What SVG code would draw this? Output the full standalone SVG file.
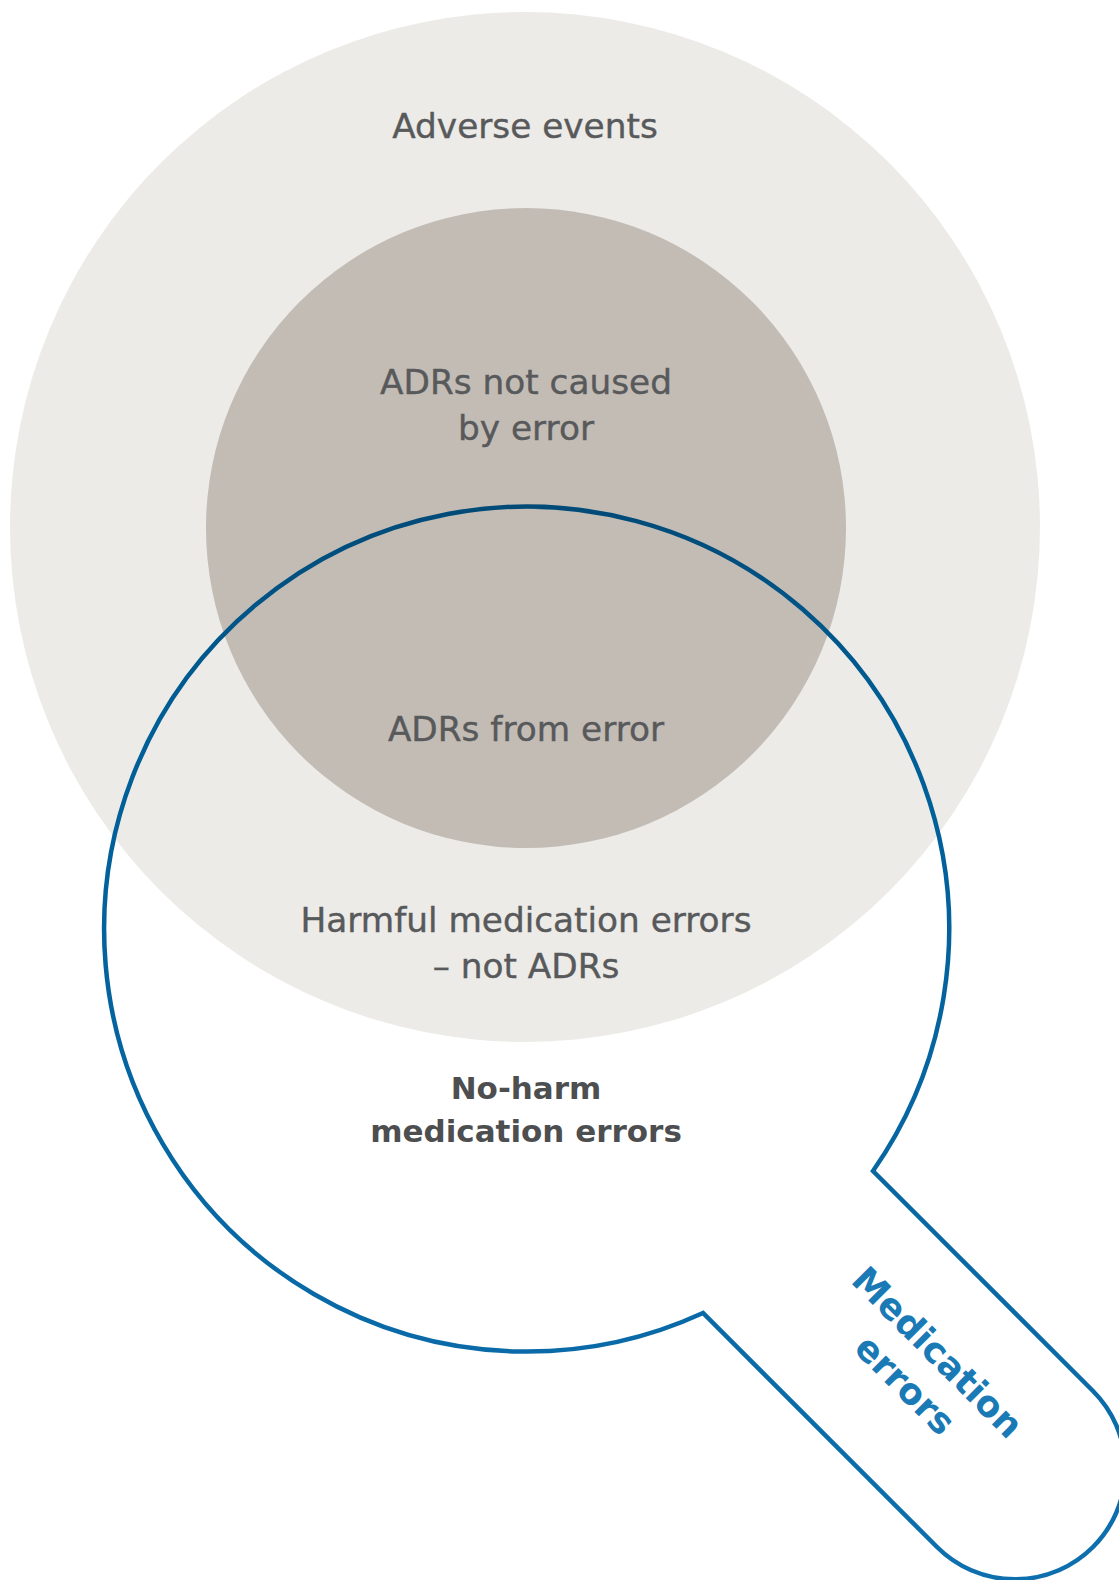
<svg xmlns="http://www.w3.org/2000/svg" width="1119" height="1580" viewBox="0 0 1119 1580">
<defs>
<style>
.lbl{font-family:"DejaVu Sans",sans-serif;font-size:34.3px;fill:#58595b;text-anchor:middle;stroke:#58595b;stroke-width:0.4}
.bld{font-family:"DejaVu Sans",sans-serif;font-size:31px;font-weight:bold;fill:#4d4e50;text-anchor:middle}
.blue{font-family:"DejaVu Sans",sans-serif;font-size:36px;font-weight:bold;fill:#1a7ab5;text-anchor:middle}
</style>
<linearGradient id="g" gradientUnits="userSpaceOnUse" x1="0" y1="505" x2="0" y2="1580">
<stop offset="0" stop-color="#004a77"/>
<stop offset="0.2" stop-color="#005e96"/>
<stop offset="1" stop-color="#0d6fae"/>
</linearGradient>
</defs>
<rect width="1119" height="1580" fill="#ffffff"/>
<g id="adverse-events">
<circle cx="525" cy="527" r="515" fill="#ecebe7"/>
<text class="lbl" x="525" y="138">Adverse events</text>
</g>
<g id="adrs">
<circle cx="526" cy="528" r="320" fill="#c2bcb5"/>
<text class="lbl" x="526" y="394">ADRs not caused</text>
<text class="lbl" x="526" y="440">by error</text>
</g>
<g id="adrs-from-error">
<text class="lbl" x="526" y="741">ADRs from error</text>
</g>
<g id="harmful">
<text class="lbl" x="526" y="932">Harmful medication errors</text>
<text class="lbl" x="526" y="978">– not ADRs</text>
</g>
<g id="no-harm">
<text class="bld" x="526" y="1099">No-harm</text>
<text class="bld" x="526" y="1142">medication errors</text>
</g>
<g id="medication-errors">
<path d="M 703 1313 A 422.5 422.5 0 1 1 873 1171 L 1093 1391 A 110 110 0 0 1 937 1547 Z" fill="none" stroke="url(#g)" stroke-width="4.5" stroke-linejoin="miter"/>
<g transform="translate(938 1352) rotate(45)">
<text class="blue" x="0" y="13">Medication</text>
<text class="blue" x="0" y="59">errors</text>
</g>
</g>
</svg>
